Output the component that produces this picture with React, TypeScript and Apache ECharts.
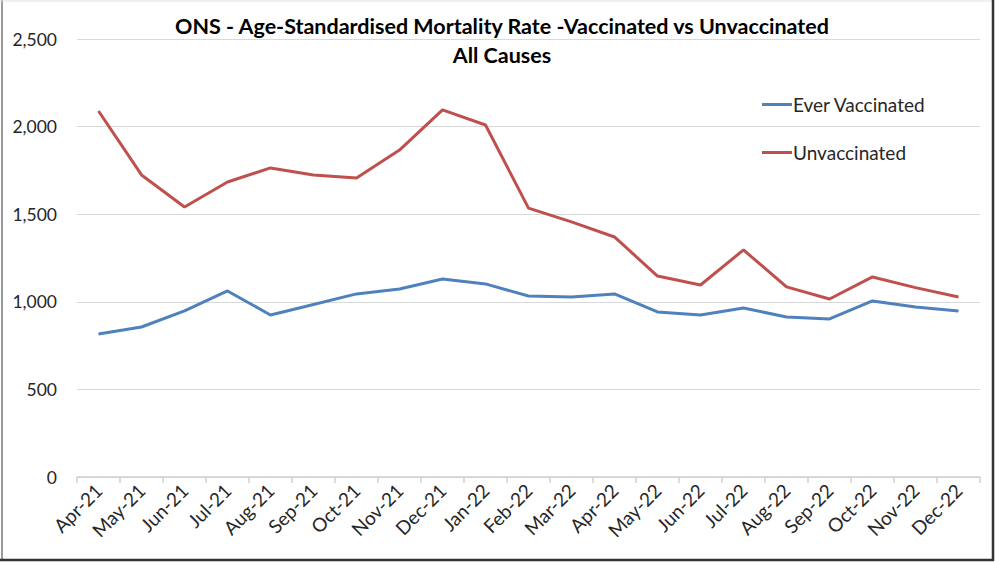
import React, { useEffect, useRef } from "react";
import * as echarts from "echarts";

const months = [
  "Apr-21", "May-21", "Jun-21", "Jul-21", "Aug-21", "Sep-21", "Oct-21", "Nov-21", "Dec-21",
  "Jan-22", "Feb-22", "Mar-22", "Apr-22", "May-22", "Jun-22", "Jul-22", "Aug-22", "Sep-22",
  "Oct-22", "Nov-22", "Dec-22",
];
const everVaccinated = [
  816, 856, 948, 1062, 925, 985, 1045, 1073, 1130, 1102, 1033, 1027, 1045, 942, 925, 965, 913,
  902, 1005, 970, 948,
];
const unvaccinated = [
  2089, 1724, 1541, 1684, 1764, 1724, 1707, 1866, 2095, 2009, 1535, 1456, 1370, 1147, 1096,
  1296, 1085, 1016, 1142, 1081, 1027,
];
const yTicks = [0, 500, 1000, 1500, 2000, 2500];

const FONT = "Lato, 'Open Sans', sans-serif";

export default function App() {
  const ref = useRef<HTMLDivElement>(null);
  useEffect(() => {
    if (!ref.current) return;
    const chart = echarts.init(ref.current, null, { renderer: "svg" });
    chart.setOption({
      animation: false,
      backgroundColor: "#ffffff",
      title: {
        text: "ONS - Age-Standardised Mortality Rate -Vaccinated vs Unvaccinated\nAll Causes",
        left: 497,
        textAlign: "center",
        top: 6,
        textStyle: {
          fontFamily: FONT,
          fontWeight: "bold",
          fontSize: 21.5,
          color: "#000000",
          lineHeight: 29,
        },
      },
      legend: {
        orient: "vertical",
        left: 757,
        top: 90,
        itemWidth: 30,
        itemHeight: 3,
        itemGap: 29,
        icon: "rect",
        textStyle: { fontFamily: FONT, fontSize: 19, color: "#262626", padding: [0, 0, 0, -4] },
        data: ["Ever Vaccinated", "Unvaccinated"],
      },
      grid: { left: 77, right: 20, top: 39, bottom: 85, containLabel: false },
      xAxis: {
        type: "category",
        data: months,
        boundaryGap: true,
        axisLine: { lineStyle: { color: "#d0d0d0", width: 1.5 } },
        axisTick: { show: true, length: 6, lineStyle: { color: "#d0d0d0", width: 1.5 } },
        axisLabel: {
          rotate: 45,
          interval: 0,
          margin: 10,
          fontFamily: FONT,
          fontSize: 19,
          color: "#262626",
        },
      },
      yAxis: {
        type: "value",
        min: 0,
        max: 2500,
        interval: 500,
        axisLine: { show: false },
        axisTick: { show: false },
        axisLabel: {
          margin: 20,
          fontFamily: FONT,
          fontSize: 17.5,
          color: "#262626",
          formatter: (v: number) => (yTicks.includes(v) ? v.toLocaleString("en-US") : ""),
        },
        splitLine: { lineStyle: { color: "#d9d9d9", width: 1.2 } },
      },
      series: [
        {
          name: "Ever Vaccinated",
          type: "line",
          data: everVaccinated,
          symbol: "none",
          lineStyle: { color: "#4F81BD", width: 3 },
          itemStyle: { color: "#4F81BD" },
        },
        {
          name: "Unvaccinated",
          type: "line",
          data: unvaccinated,
          symbol: "none",
          lineStyle: { color: "#C0504D", width: 3 },
          itemStyle: { color: "#C0504D" },
        },
      ],
      graphic: [
        { type: "line", shape: { x1: 2, y1: 0, x2: 2, y2: 560 }, style: { stroke: "#9a9a9a", lineWidth: 2 } },
        { type: "line", shape: { x1: 0, y1: 1, x2: 994, y2: 1 }, style: { stroke: "#e0e0e0", lineWidth: 1 } },
        { type: "line", shape: { x1: 993, y1: 0, x2: 993, y2: 561 }, style: { stroke: "#333333", lineWidth: 2.5 } },
        { type: "line", shape: { x1: 0, y1: 560, x2: 994, y2: 560 }, style: { stroke: "#333333", lineWidth: 2.5 } },
      ],
    });
    return () => chart.dispose();
  }, []);
  return (
    <div
      ref={ref}
      style={{ position: "fixed", left: 0, top: 0, width: 1000, height: 562, background: "#fff" }}
    />
  );
}
